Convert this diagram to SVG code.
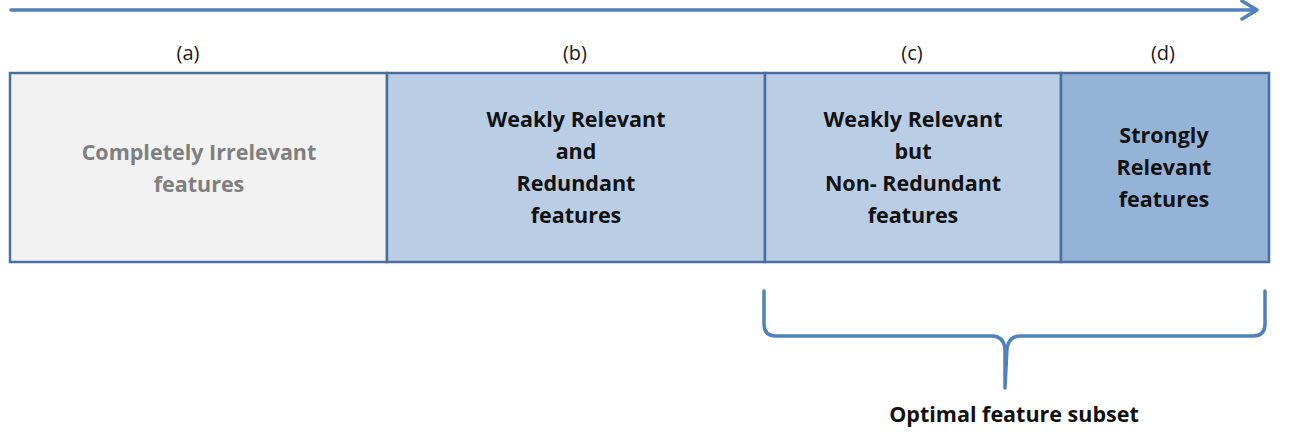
<svg xmlns="http://www.w3.org/2000/svg" width="1297" height="435" viewBox="0 0 1297 435">
<style>
.lbl{font-family:"Open Sans","Liberation Sans",sans-serif;font-size:20px;fill:#1a1a1a;text-anchor:middle}
.t{font-family:"Open Sans","Liberation Sans",sans-serif;font-size:21.5px;font-weight:bold;fill:#111;text-anchor:middle}
.g{fill:#7f7f7f}
.box{stroke:#4a6f9e;stroke-width:2.5}
.blue{fill:none;stroke:#4f81bd;stroke-width:3.5;stroke-linecap:round;stroke-linejoin:round}
</style>
<rect width="1297" height="435" fill="#fff"/>
<g id="connectors">
<path class="blue" d="M11 10 H1256 M1242 1 L1257 10 L1242 19"/>
<path class="blue" d="M764 291 V324 Q764 336 776 336 H992 Q1003 336 1005 348 L1005 388 L1007 348 Q1009 336 1020 336 H1253 Q1265 336 1265 324 V291"/>
</g>
<g id="labels">
<text class="lbl" x="188" y="60">(a)</text>
<text class="lbl" x="575" y="60">(b)</text>
<text class="lbl" x="912" y="60">(c)</text>
<text class="lbl" x="1163" y="60">(d)</text>
</g>
<g id="node-a">
<rect class="box" x="10" y="73" width="377" height="189" fill="#f2f2f2"/>
<text class="t g" x="199" y="160">Completely Irrelevant</text>
<text class="t g" x="199" y="192">features</text>
</g>
<g id="node-b">
<rect class="box" x="387" y="73" width="378" height="189" fill="#b9cde5"/>
<text class="t" x="576" y="127">Weakly Relevant</text>
<text class="t" x="576" y="159">and</text>
<text class="t" x="576" y="191">Redundant</text>
<text class="t" x="576" y="223">features</text>
</g>
<g id="node-c">
<rect class="box" x="765" y="73" width="296" height="189" fill="#b9cde5"/>
<text class="t" x="913" y="127">Weakly Relevant</text>
<text class="t" x="913" y="159">but</text>
<text class="t" x="913" y="191">Non- Redundant</text>
<text class="t" x="913" y="223">features</text>
</g>
<g id="node-d">
<rect class="box" x="1061" y="73" width="208" height="189" fill="#95b3d7"/>
<text class="t" x="1164" y="143">Strongly</text>
<text class="t" x="1164" y="175">Relevant</text>
<text class="t" x="1164" y="207">features</text>
</g>
<g id="brace-label">
<text class="t" x="1014" y="422">Optimal feature subset</text>
</g>
</svg>
